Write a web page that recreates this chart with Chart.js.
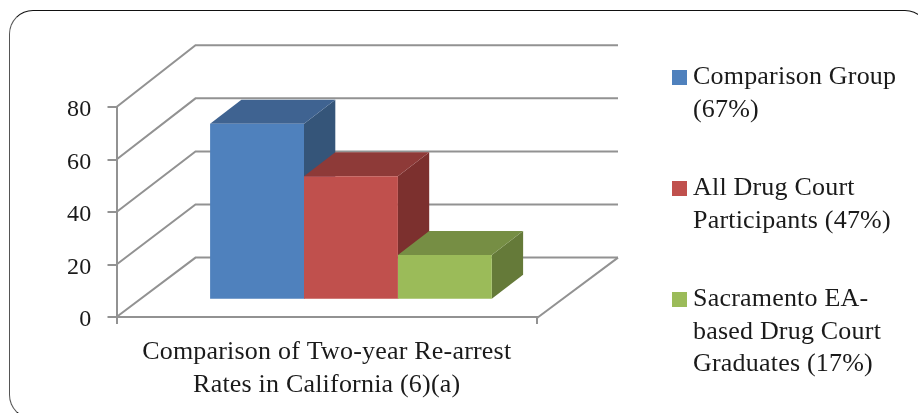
<!DOCTYPE html>
<html>
<head>
<meta charset="utf-8">
<title>Two-year Re-arrest Rates</title>
<script src="https://cdn.jsdelivr.net/npm/chart.js@4"></script>
<style>
    html, body { margin: 0; padding: 0; background: #fff; overflow: hidden; }
    #wrap { position: relative; width: 918px; height: 413px; overflow: hidden; }
    #frame {
        position: absolute; left: 9px; top: 10px; width: 918px; height: 407px;
        border: 1px solid #111; border-left: 1.5px solid #555; border-radius: 24px;
        pointer-events: none;
    }
    canvas { display: block; }
</style>
</head>
<body>
<div id="wrap">
    <canvas id="barChart" width="918" height="413"></canvas>
    <div id="frame"></div>
</div>
<script>
const categories = [['Comparison of Two-year Re-arrest', 'Rates in California (6)(a)']];
const comparisonGroup = [67];
const allParticipants = [47];
const sacramentoGraduates = [17];
const yTicks = [0, 20, 40, 60, 80];
const legendLines = [
    ['Comparison Group', '(67%)'],
    ['All Drug Court', 'Participants (47%)'],
    ['Sacramento EA-', 'based Drug Court', 'Graduates (17%)']
];

const FONT = { family: '"Liberation Serif", serif', size: 26, lineHeight: 1.25 };
const TICK_FONT = { family: '"Liberation Serif", serif', size: 24 };
const TEXT_COLOR = '#1a1a1a';
const AXIS_COLOR = '#929292';

// front, top and side colours of each box
const faces = [
    { front: '#4f81bd', top: '#3f6391', side: '#355579' },
    { front: '#c0504d', top: '#8e3a38', side: '#7c302e' },
    { front: '#9bbb59', top: '#768e44', side: '#657a39' }
];

// offset of the back wall (it is a touch taller than the front), of the box fronts and the depth of a box
const wall = { left: 79, right: 81, up: 59.4, grow: 0.011 };
const boxShift = { x: 24.2, y: -17.3 };
const boxDepth = { x: 31.3, y: -24 };

function poly(ctx, color, pts) {
    ctx.fillStyle = color;
    ctx.beginPath();
    pts.forEach((p, i) => i ? ctx.lineTo(p[0], p[1]) : ctx.moveTo(p[0], p[1]));
    ctx.closePath();
    ctx.fill();
}

let ticksNudged = false;

const box3d = {
    id: 'box3d',
    beforeDraw(chart) {
        chart.ctx.letterSpacing = '0.2px';
        // the value labels sit a little below their tick marks
        if (!ticksNudged) {
            chart.scales.y.getLabelItems().forEach(item => { item.options.translation[1] += 3; });
            ticksNudged = true;
        }
    },
    beforeDatasetsDraw(chart) {
        const ctx = chart.ctx;
        const x = chart.scales.x;
        const y = chart.scales.y;
        const left = x.left, right = x.right;
        const y0 = y.getPixelForValue(0);

        // side wall, back wall and floor lines
        ctx.save();
        ctx.strokeStyle = AXIS_COLOR;
        ctx.lineWidth = 2;
        y.ticks.forEach(t => {
            const py = y.getPixelForValue(t.value);
            const backY = py - wall.up - (y0 - py) * wall.grow;
            ctx.beginPath();
            ctx.moveTo(left, py);
            ctx.lineTo(left + wall.left, backY);
            ctx.lineTo(right + wall.right, backY);
            ctx.stroke();
        });
        ctx.beginPath();
        ctx.moveTo(right, y0 + 1);
        ctx.lineTo(right + wall.right, y0 - wall.up);
        ctx.stroke();
        ctx.restore();

        // the library draws the fronts afterwards, in the same shifted space
        ctx.save();
        ctx.translate(boxShift.x, boxShift.y);
        chart.data.datasets.forEach((ds, i) => {
            const bar = chart.getDatasetMeta(i).data[0];
            const l = bar.x - bar.width / 2, r = bar.x + bar.width / 2;
            const t = bar.y, b = bar.base;
            const dx = boxDepth.x, dy = boxDepth.y;
            poly(ctx, faces[i].side, [[r, t], [r + dx, t + dy], [r + dx, b + dy], [r, b]]);
            poly(ctx, faces[i].top, [[l, t], [l + dx, t + dy], [r + dx, t + dy], [r, t]]);
        });
    },
    afterDatasetsDraw(chart) {
        chart.ctx.restore();
        drawLegend(chart);
    }
};

function drawLegend(chart) {
    const ctx = chart.ctx;
    const rowTops = [70, 181, 292];
    ctx.save();
    ctx.font = FONT.size + 'px ' + FONT.family;
    ctx.textAlign = 'left';
    ctx.textBaseline = 'alphabetic';
    legendLines.forEach((lines, i) => {
        ctx.fillStyle = faces[i].front;
        ctx.fillRect(672, rowTops[i], 15, 15);
        ctx.fillStyle = TEXT_COLOR;
        lines.forEach((line, n) => ctx.fillText(line, 693, rowTops[i] + 14 + n * 32.5));
    });
    ctx.restore();
}

new Chart(document.getElementById('barChart'), {
    type: 'bar',
    data: {
        labels: categories,
        datasets: [
            { label: legendLines[0].join(' '), data: comparisonGroup, backgroundColor: faces[0].front },
            { label: legendLines[1].join(' '), data: allParticipants, backgroundColor: faces[1].front },
            { label: legendLines[2].join(' '), data: sacramentoGraduates, backgroundColor: faces[2].front }
        ]
    },
    options: {
        responsive: false,
        animation: false,
        devicePixelRatio: 1,
        layout: { padding: { top: 107, right: 381, left: 0, bottom: 0 } },
        plugins: { legend: { display: false }, tooltip: { enabled: false } },
        datasets: { bar: { barPercentage: 1, categoryPercentage: 281.7 / 420.5 } },
        scales: {
            x: {
                grid: { offset: true, drawOnChartArea: false, drawTicks: true, tickLength: 7, color: AXIS_COLOR, lineWidth: 2 },
                border: { color: AXIS_COLOR, width: 2 },
                ticks: { color: TEXT_COLOR, font: FONT, padding: 12, maxRotation: 0, autoSkip: false },
                afterFit: s => { s.height = 96; }
            },
            y: {
                min: 0,
                max: 80,
                afterBuildTicks: s => { s.ticks = yTicks.map(v => ({ value: v })); },
                grid: { drawOnChartArea: false, drawTicks: true, tickLength: 9, color: AXIS_COLOR, lineWidth: 2 },
                border: { color: AXIS_COLOR, width: 2 },
                ticks: { color: TEXT_COLOR, font: TICK_FONT, padding: 16 },
                afterFit: s => { s.width = 116.5; }
            }
        }
    },
    plugins: [box3d]
});
</script>
</body>
</html>
